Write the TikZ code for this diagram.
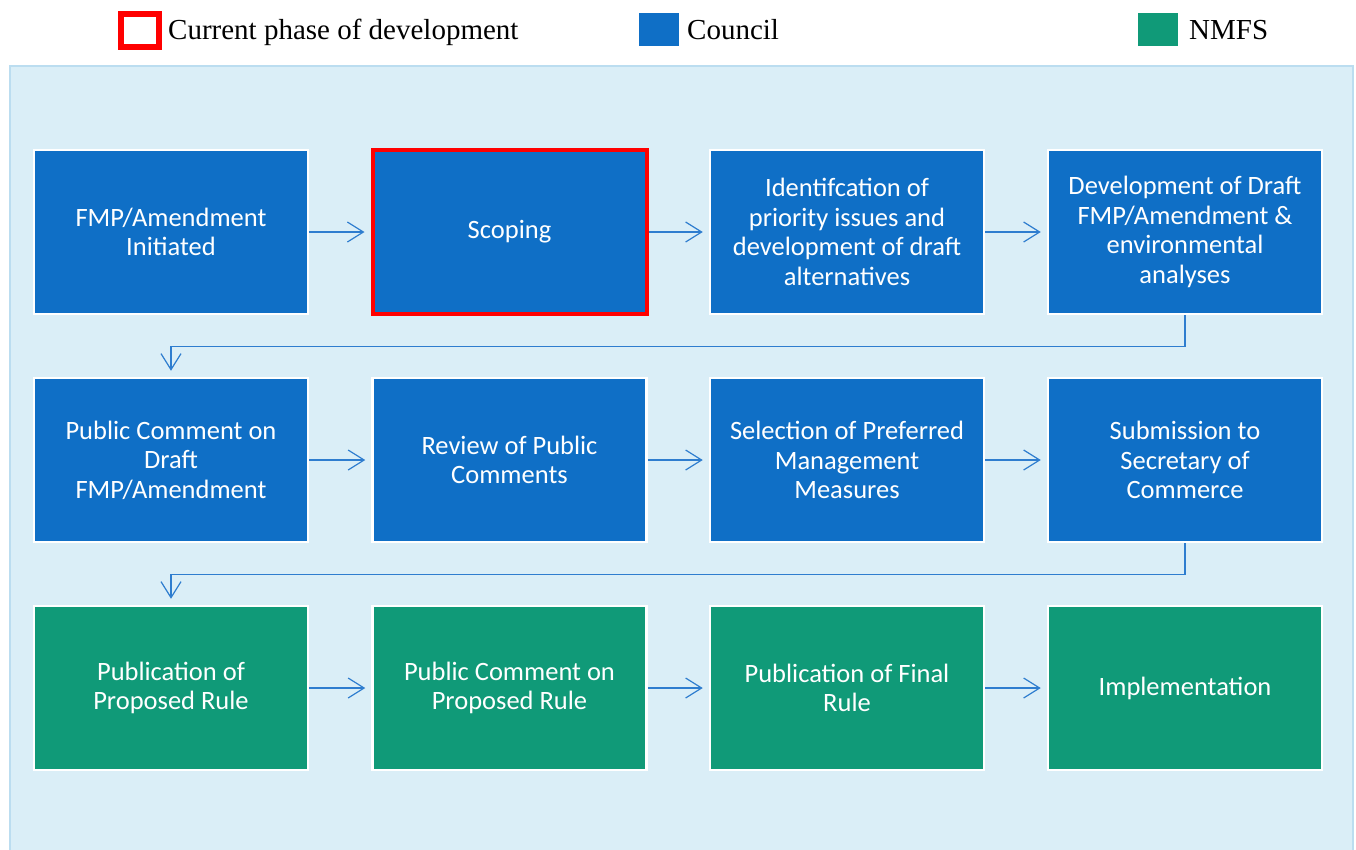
\documentclass[tikz,border=0pt]{standalone}
\usepackage{fontspec}
\setmainfont{Liberation Serif}
\newfontfamily\boxfont{Carlito}
\usetikzlibrary{arrows.meta}
\definecolor{councilblue}{HTML}{0F6FC6}
\definecolor{nmfsgreen}{HTML}{109A78}
\definecolor{panelfill}{HTML}{DAEEF7}
\definecolor{panelline}{HTML}{BBDDF0}
\definecolor{arrowblue}{HTML}{2E7DCF}
\tikzset{
  x=1pt,y=-1pt,
  stagebox/.style={draw=white, line width=2.5pt, minimum width=274pt, minimum height=164pt,
     inner sep=0pt, text=white, align=center, font=\boxfont\fontsize{26.5}{29.5}\selectfont},
  councilbox/.style={stagebox, fill=councilblue},
  nmfsbox/.style={stagebox, fill=nmfsgreen},
  currentbox/.style={stagebox, fill=councilblue, draw=red, line width=4pt},
  arr/.style={draw=arrowblue, line width=1.2pt, -{Straight Barb[length=16pt,width=20pt,line width=1.2pt]}, shorten >=6pt},
  legtext/.style={anchor=base west, inner sep=0pt, font=\fontsize{29}{32}\selectfont}
}
\begin{document}
\begin{tikzpicture}
\useasboundingbox (0,0) rectangle (1356,849);
\fill[white] (0,0) rectangle (1356,849);
\begin{scope}
\clip (0,0) rectangle (1356,849);
\draw[fill=panelfill, draw=panelline, line width=2.5pt] (10,66) rectangle (1353,870);
\end{scope}
% legend
\node[draw=red, line width=6pt, minimum width=38pt, minimum height=33pt, inner sep=0pt] (lgcur) at (140,30.5) {};
\node[legtext] (lgcurt) at (168,39) {Current phase of development};
\node[fill=councilblue, minimum width=40pt, minimum height=33pt, inner sep=0pt] (lgcou) at (659,29) {};
\node[legtext] (lgcout) at (687,39) {Council};
\node[fill=nmfsgreen, minimum width=40pt, minimum height=33pt, inner sep=0pt] (lgnm) at (1158,29) {};
\node[legtext] (lgnmt) at (1189,39) {NMFS};
% row 1
\node[councilbox] (b1) at (171,232) {FMP/Amendment\\Initiated};
\node[currentbox] (b2) at (509.5,232) {Scoping};
\node[councilbox] (b3) at (847,232) {Identifcation of\\priority issues and\\development of draft\\alternatives};
\node[councilbox] (b4) at (1185,232) {Development of Draft\\FMP/Amendment \&\\environmental\\analyses};
% row 2
\node[councilbox] (b5) at (171,460) {Public Comment on\\Draft\\FMP/Amendment};
\node[councilbox] (b6) at (509.5,460) {Review of Public\\Comments};
\node[councilbox] (b7) at (847,460) {Selection of Preferred\\Management\\Measures};
\node[councilbox] (b8) at (1185,460) {Submission to\\Secretary of\\Commerce};
% row 3
\node[nmfsbox] (b9) at (171,688) {Publication of\\Proposed Rule};
\node[nmfsbox] (b10) at (509.5,688) {Public Comment on\\Proposed Rule};
\node[nmfsbox] (b11) at (847,688) {Publication of Final\\Rule};
\node[nmfsbox] (b12) at (1185,688) {Implementation};
% arrows
\draw[arr] (b1) -- (b2);
\draw[arr] (b2) -- (b3);
\draw[arr] (b3) -- (b4);
\draw[arr] (b5) -- (b6);
\draw[arr] (b6) -- (b7);
\draw[arr] (b7) -- (b8);
\draw[arr] (b9) -- (b10);
\draw[arr] (b10) -- (b11);
\draw[arr] (b11) -- (b12);
\draw[arr] (b4.south) -- ++(0,31) -| (b5.north);
\draw[arr] (b8.south) -- ++(0,31) -| (b9.north);
\end{tikzpicture}
\end{document}
